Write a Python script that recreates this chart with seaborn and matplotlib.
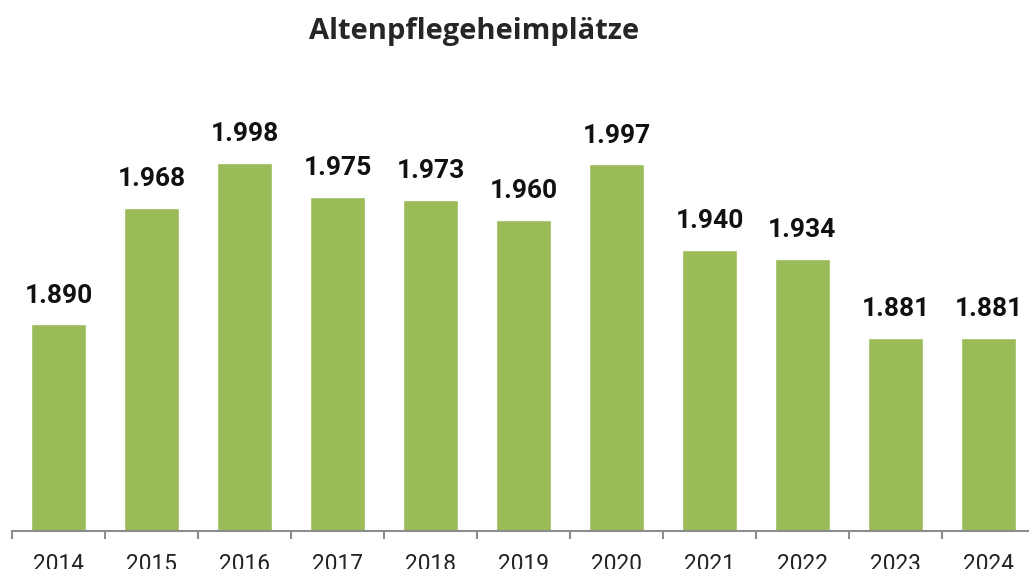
import matplotlib
matplotlib.use("Agg")
import matplotlib.pyplot as plt
import seaborn as sns
import pandas as pd

years = ["2014", "2015", "2016", "2017", "2018", "2019", "2020", "2021", "2022", "2023", "2024"]
plaetze = [1890, 1968, 1998, 1975, 1973, 1960, 1997, 1940, 1934, 1881, 1881]

df = pd.DataFrame({"Jahr": years, "Plaetze": plaetze})

sns.set_theme(style="white")
plt.rcParams["font.family"] = ["Roboto", "DejaVu Sans"]

fig = plt.figure(figsize=(10.29, 5.69), dpi=100)
ax = fig.add_axes([12 / 1029, 1 - 531 / 569, 1023 / 1029, 521 / 569])

sns.barplot(data=df, x="Jahr", y="Plaetze", color="#9BBB59", saturation=1,
            width=0.59, ax=ax)

ax.set_xlim(-0.5, len(years) - 0.5)
ax.set_ylim(1752, 2100)
ax.set_xlabel("")
ax.set_ylabel("")
ax.set_yticks([])

for s in ["top", "right", "left"]:
    ax.spines[s].set_visible(False)
ax.spines["bottom"].set_color("#8c8c8c")
ax.spines["bottom"].set_linewidth(1.5)

# tick marks between the categories
ax.set_xticks([i - 0.5 for i in range(len(years) + 1)], minor=True)
ax.tick_params(axis="x", which="minor", length=6, width=1.5, color="#8c8c8c", bottom=True)
ax.tick_params(axis="x", which="major", length=0, pad=16, labelsize=16.3, labelcolor="#222222")

labels = [f"{v:,}".replace(",", ".") for v in plaetze]
ax.bar_label(ax.containers[0], labels=labels, padding=12, fontsize=19,
             fontweight="bold", color="#111111")

fig.text(0.461, 0.945, "Altenpflegeheimplätze", ha="center", va="center",
         fontsize=21, fontweight="bold", family=["Open Sans", "DejaVu Sans"])

fig.savefig("out.png", dpi=100)
